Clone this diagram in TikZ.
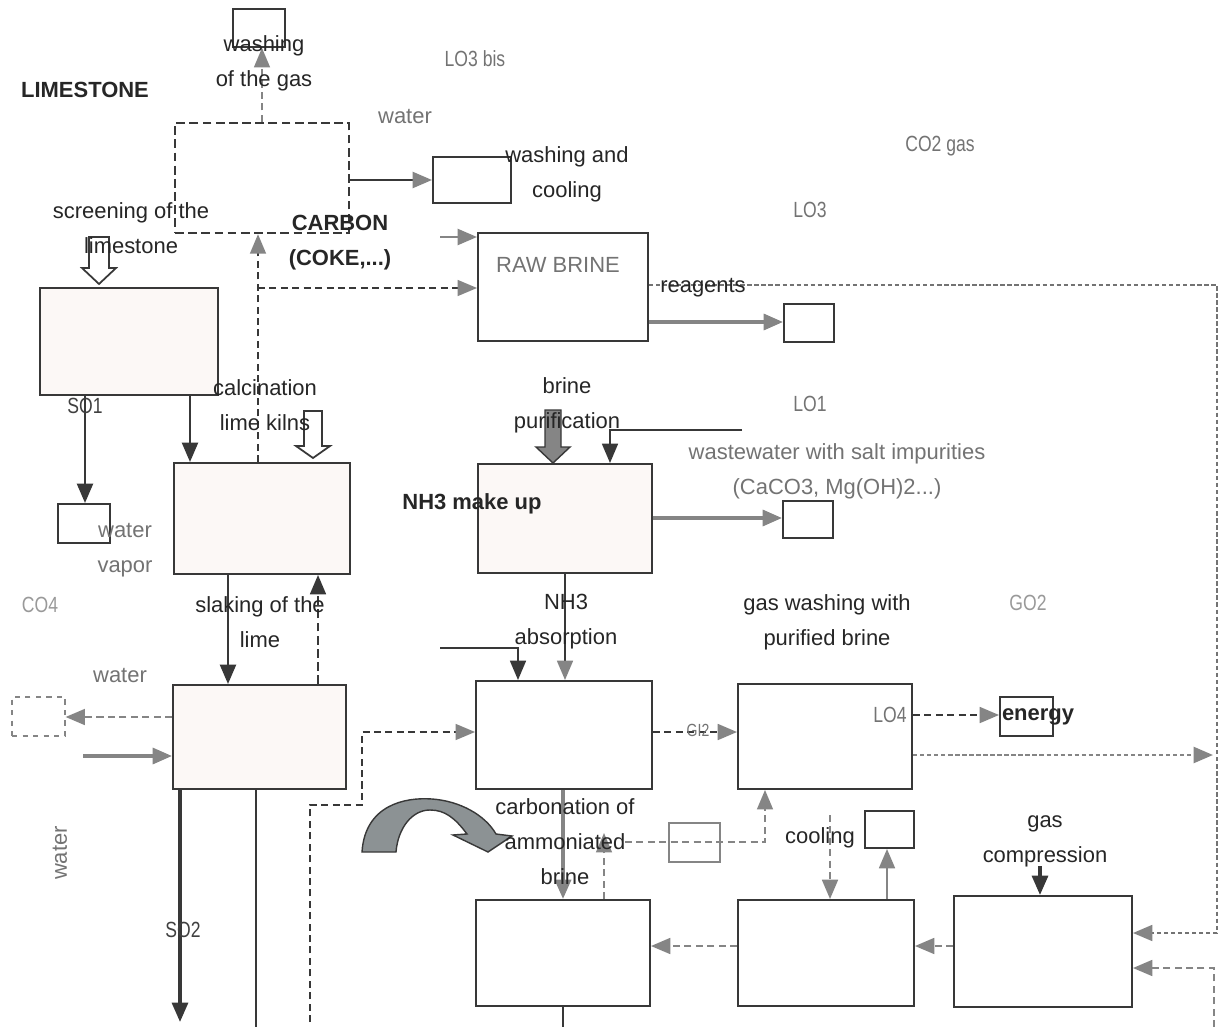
\documentclass[tikz,border=0pt]{standalone}
\usepackage{fontspec}
\setmainfont{Liberation Sans}
\newfontfamily\narrowfont[FakeStretch=0.8]{Liberation Sans}
\usetikzlibrary{positioning, calc, arrows.meta, fit}

\definecolor{linegray}{gray}{0.22}
\definecolor{headgray}{gray}{0.52}
\definecolor{labgray}{gray}{0.45}
\definecolor{boxfill}{RGB}{252,248,246}
\definecolor{curvegray}{RGB}{140,146,148}

\tikzset{
    unit/.style={draw=linegray, line width=1.1pt, inner sep=0pt},
    unitfill/.style={unit, fill=boxfill},
    dashunit/.style={unit, line width=1.4pt, dash pattern=on 5pt off 2.5pt},
    tag/.style={font=\fontsize{12.5}{20}\selectfont, text=black!85, align=center, inner sep=0pt},
    tagbold/.style={tag, font=\fontsize{12.5}{20}\selectfont\bfseries},
    greytag/.style={tag, text=labgray},
    thintag/.style={greytag, font=\narrowfont\fontsize{12.5}{20}\selectfont},
    flow/.style={draw=linegray, line width=1.5pt, -{Triangle[length=11pt, width=9pt]}},
    gflow/.style={draw=linegray, line width=1.5pt, -{Triangle[length=11pt, width=9pt, color=headgray]}},
    dflow/.style={gflow, line width=1pt, dash pattern=on 4pt off 2.5pt},
    dotflow/.style={gflow, draw=headgray, line width=1.6pt, dash pattern=on 2.5pt off 1.5pt},
    hollow/.style={draw=linegray, line width=1pt, fill=white},
}

\begin{document}
\begin{tikzpicture}[x=0.02cm, y=-0.02cm]

    \useasboundingbox[fill=white] (0,0) rectangle (1224,1027);

    % Units
    \node[unit, fit={(233,9) (285,47)}] (washgas) {};
    \node[dashunit, fit={(175,123) (349,233)}] (kiln) {};
    \node[unit, fit={(433,157) (511,203)}] (washcool) {};
    \node[unit, fit={(478,233) (648,341)}] (rawbrine) {};
    \node[unit, fit={(784,304) (834,342)}] (reagbox) {};
    \node[unitfill, fit={(40,288) (218,395)}] (lime) {};
    \node[unit, fit={(58,504) (110,543)}] (vapour) {};
    \node[unitfill, fit={(174,463) (350,574)}] (calc) {};
    \node[unitfill, fit={(478,464) (652,573)}] (purif) {};
    \node[unit, fit={(783,501) (833,538)}] (wastebox) {};
    \node[unitfill, fit={(173,685) (346,789)}] (slake) {};
    \node[unit, draw=headgray, dashed, line width=0.7pt, fit={(12,697) (65,736)}] (waterbox) {};
    \node[unit, fit={(476,681) (652,789)}] (absorb) {};
    \node[unit, fit={(738,684) (912,789)}] (gaswash) {};
    \node[unit, fit={(1000,697) (1053,736)}] (energybox) {};
    \node[unit, draw=headgray, line width=0.7pt, fit={(669,823) (720,862)}] (smallbox) {};
    \node[unit, fit={(865,811) (914,848)}] (coolbox) {};
    \node[unit, fit={(476,900) (650,1006)}] (carbon) {};
    \node[unit, fit={(738,900) (914,1006)}] (coolbot) {};
    \node[unit, fit={(954,896) (1132,1007)}] (gascomp) {};

    % Free ends
    \coordinate (cokein) at (440,237);
    \coordinate (waterin) at (83,756);
    \coordinate (so2out) at (180,1022);
    \coordinate (limeout) at (256,1027);
    \coordinate (loopin) at (310,1022);
    \coordinate (purin) at (742,430);
    \coordinate (nh3in) at (440,648);
    \coordinate (co2in) at (1214,1027);
    \coordinate (cooldown) at (830,815);
    \coordinate (compin) at (1040,866);
    \coordinate (brineout) at (563,1027);

    % Top part
    \draw[dflow, draw=headgray] (kiln.north -| 262,0) -- (washgas.south -| 262,0);
    \draw[gflow] (kiln.east |- 0,180) -- (washcool.west |- 0,180);
    \draw[gflow, draw=headgray] (cokein) -- (rawbrine.west |- 0,237);
    \draw[dflow] (calc.north -| 258,0) -- (kiln.south -| 258,0);
    \draw[dflow] (258,288) -- (rawbrine.west |- 0,288);
    \draw[dotflow, line width=1.3pt, draw=labgray] (rawbrine.east |- 0,285) -- (1217,285) -- (1217,933) -- (gascomp.east |- 0,933);
    \draw[gflow, draw=headgray, line width=2pt] (rawbrine.east |- 0,322) -- (reagbox.west |- 0,322);

    % Limestone and kilns
    \draw[hollow] (89,237) -- (89,268) -- (82,268) -- (99,284) -- (116,268) -- (109,268) -- (109,237) -- cycle;
    \draw[flow] (lime.south -| 85,0) -- (vapour.north -| 85,0);
    \draw[flow] (lime.south -| 190,0) -- (calc.north -| 190,0);
    \draw[hollow] (304,411) -- (304,446) -- (296,446) -- (313,458) -- (330,446) -- (322,446) -- (322,411) -- cycle;
    \draw[flow] (calc.south -| 228,0) -- (slake.north -| 228,0);
    \draw[flow, line width=1.3pt, dash pattern=on 5pt off 2.5pt] (slake.north -| 318,0) -- (calc.south -| 318,0);

    % Slaking
    \draw[dflow, draw=headgray, line width=1.3pt] (slake.west |- 0,717) -- (waterbox.east |- 0,717);
    \draw[gflow, draw=headgray, line width=2pt] (waterin) -- (slake.west |- 0,756);
    \draw[flow, line width=2pt] (slake.south -| 180,0) -- (so2out);
    \draw[linegray, line width=1.3pt] (slake.south -| 256,0) -- (limeout);
    \draw[dflow] (loopin) -- (310,805) -- (362,805) -- (362,732) -- (absorb.west |- 0,732);

    % Brine purification
    \draw[draw=linegray, line width=0.8pt, fill=headgray] (545,410) -- (545,447) -- (536,447) -- (553,463) -- (570,447) -- (561,447) -- (561,410) -- cycle;
    \draw[flow, line width=1.2pt] (purin) -- (610,430) -- (purif.north -| 610,0);
    \draw[gflow, draw=headgray, line width=2pt] (purif.east |- 0,518) -- (wastebox.west |- 0,518);
    \draw[gflow, line width=1.2pt] (purif.south -| 565,0) -- (absorb.north -| 565,0);

    % Absorption and carbonation
    \draw[flow, line width=1.2pt] (nh3in) -- (518,648) -- (absorb.north -| 518,0);
    \draw[dflow, line width=1.3pt] (absorb.east |- 0,732) -- (gaswash.west |- 0,732);
    \draw[dflow, line width=1.3pt] (gaswash.east |- 0,715) -- (energybox.west |- 0,715);
    \draw[dotflow] (gaswash.east |- 0,755) -- (1213,755);
    \draw[gflow, draw=headgray, line width=2.2pt] (absorb.south -| 563,0) -- (carbon.north -| 563,0);
    \draw[linegray, line width=1.3pt] (carbon.south -| 563,0) -- (brineout);
    \draw[dflow, draw=headgray] (carbon.north -| 604,0) -- (604,833);
    \draw[dflow, draw=headgray] (625,842) -- (765,842) -- (gaswash.south -| 765,0);

    % Cooling and compression
    \draw[dflow, draw=headgray, line width=1.3pt] (cooldown) -- (coolbot.north -| 830,0);
    \draw[gflow, draw=headgray, line width=1.3pt] (coolbot.north -| 887,0) -- (coolbox.south -| 887,0);
    \draw[flow, line width=2pt] (compin) -- (gascomp.north -| 1040,0);
    \draw[dflow, draw=headgray, line width=1.3pt] (gascomp.west |- 0,946) -- (coolbot.east |- 0,946);
    \draw[dflow, draw=headgray, line width=1.3pt] (coolbot.west |- 0,946) -- (carbon.east |- 0,946);
    \draw[dflow, draw=headgray, line width=1.3pt] (co2in) -- (1214,968) -- (gascomp.east |- 0,968);

    % Bent arrow
    \filldraw[fill=curvegray, draw=linegray, line width=0.8pt]
        (362,852) .. controls (365,805) and (405,797) .. (432,799)
        .. controls (460,801) and (485,815) .. (496,834)
        -- (512,836) -- (488,852) -- (453,835) -- (467,834)
        .. controls (455,818) and (445,810) .. (430,810)
        .. controls (412,810) and (398,828) .. (396,852) -- cycle;

    % Labels
    \node[tagbold] (tlime) at (85,90) {LIMESTONE};
    \node[tag] (twashgas) at (264,63) {washing\\of the gas};
    \node[thintag] (tlo3bis) at (475,59) {LO3 bis};
    \node[greytag] (twater1) at (405,117) {water};
    \node[tag] (twashcool) at (567,174) {washing and\\cooling};
    \node[thintag] (tco2) at (940,146) {CO2 gas};
    \node[thintag] (tlo3) at (810,210) {LO3};
    \node[tag] (tscreen) at (131,228) {screening of the\\limestone};
    \node[tagbold] (tcarbon) at (340,243) {CARBON\\(COKE,...)};
    \node[greytag] (traw) at (558,265) {RAW BRINE};
    \node[tag] (treag) at (703,288) {reagents};
    \node[tag] (tcalc) at (265,405) {calcination\\lime kilns};
    \node[thintag, text=black!75] (tso1) at (85,406) {SO1};
    \node[tag] (tpurif) at (567,405) {brine\\purification};
    \node[thintag] (tlo1) at (810,404) {LO1};
    \node[greytag] (twaste) at (837,471) {wastewater with salt impurities\\(CaCO3, Mg(OH)2...)};
    \node[tagbold] (tmakeup) at (472,504) {NH3 make up};
    \node[greytag] (tvapour) at (125,550) {water\\vapor};
    \node[thintag, text=black!40] (tco4) at (40,605) {CO4};
    \node[tag] (tslake) at (260,622) {slaking of the\\lime};
    \node[tag] (tabsorb) at (566,622) {NH3\\absorption};
    \node[tag] (tgaswash) at (827,622) {gas washing with\\purified brine};
    \node[thintag, text=black!40] (tgo2) at (1028,603) {GO2};
    \node[greytag] (twater2) at (120,676) {water};
    \node[thintag] (tlo4) at (890,715) {LO4};
    \node[tagbold] (tenergy) at (1038,717) {energy};
    \node[thintag, font=\narrowfont\fontsize{10}{12}\selectfont] (tgi2) at (698,730) {GI2};
    \node[greytag, rotate=90] (twater3) at (60,853) {water};
    \node[tag] (tcarbonation) at (565,842) {carbonation of\\ammoniated\\brine};
    \node[tag] (tcool) at (820,838) {cooling};
    \node[tag] (tcomp) at (1045,841) {gas\\compression};
    \node[thintag, text=black!75] (tso2) at (183,930) {SO2};

\end{tikzpicture}
\end{document}
